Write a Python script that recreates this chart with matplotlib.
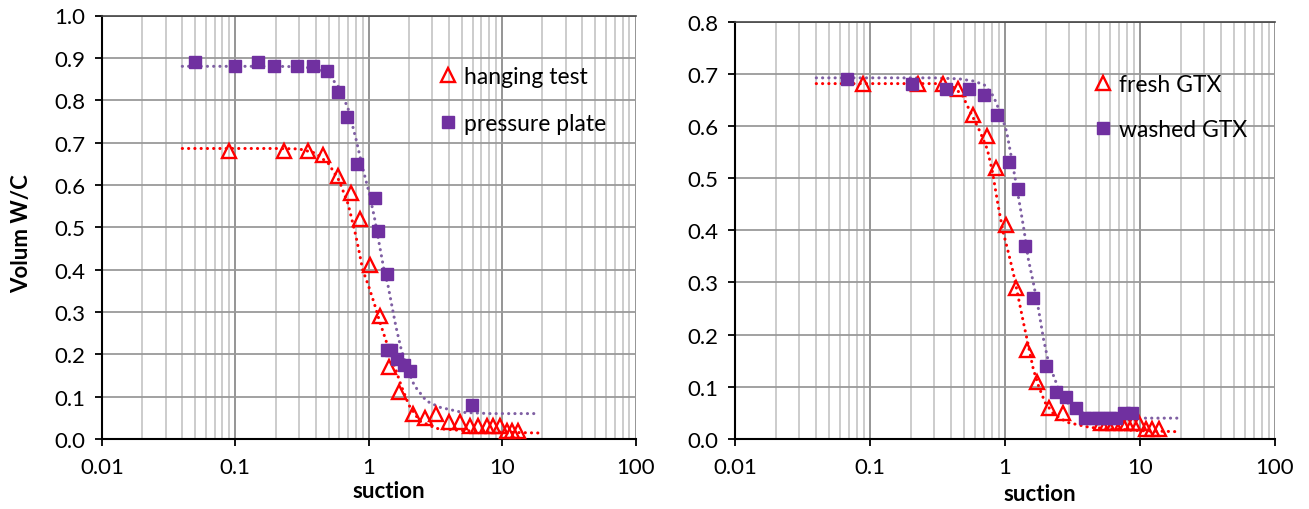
import numpy as np
import matplotlib
matplotlib.use("Agg")
import matplotlib.pyplot as plt
from matplotlib.ticker import LogLocator, NullFormatter, FixedLocator

plt.rcParams['font.family'] = ['Lato', 'DejaVu Sans']

# ---------------- data ----------------
# Left chart
hang_x = [0.09, 0.23, 0.35, 0.455, 0.59, 0.73, 0.867, 1.02, 1.21, 1.43, 1.70, 2.13,
          2.62, 3.22, 4.02, 4.86, 5.77, 6.62, 7.73, 8.57, 9.66, 10.9, 11.9, 13.2]
hang_y = [0.68, 0.68, 0.68, 0.67, 0.62, 0.58, 0.52, 0.41, 0.29, 0.17, 0.11, 0.06,
          0.05, 0.06, 0.04, 0.04, 0.03, 0.03, 0.03, 0.03, 0.03, 0.02, 0.02, 0.02]
plate_x = [0.05, 0.10, 0.149, 0.196, 0.29, 0.385, 0.49, 0.59, 0.69, 0.82, 1.12, 1.18,
           1.36, 1.37, 1.48, 1.63, 1.83, 2.05, 5.9]
plate_y = [0.89, 0.88, 0.89, 0.88, 0.88, 0.88, 0.87, 0.82, 0.76, 0.65, 0.57, 0.49,
           0.39, 0.21, 0.21, 0.19, 0.175, 0.16, 0.08]
# fitted curves
hang_fit_x = [0.04, 0.1, 0.2, 0.3, 0.4, 0.5, 0.6, 0.7, 0.8, 0.85, 0.9, 1.0, 1.1, 1.2,
              1.36, 1.56, 1.75, 2.0, 2.4, 3.2, 5.0, 10.0, 20.0]
hang_fit_y = [0.686, 0.686, 0.686, 0.685, 0.675, 0.65, 0.61, 0.555, 0.48, 0.44, 0.40,
              0.36, 0.32, 0.28, 0.228, 0.173, 0.126, 0.08, 0.043, 0.025, 0.02, 0.016, 0.014]
plate_fit_x = [0.04, 0.1, 0.2, 0.3, 0.4, 0.5, 0.6, 0.7, 0.8, 0.9, 1.0, 1.1, 1.2, 1.3,
               1.4, 1.5, 1.6, 1.75, 1.95, 2.2, 2.7, 3.4, 5.0, 8.0, 18.0]
plate_fit_y = [0.88, 0.88, 0.88, 0.879, 0.875, 0.86, 0.83, 0.78, 0.71, 0.64, 0.585,
               0.525, 0.46, 0.40, 0.36, 0.31, 0.265, 0.212, 0.165, 0.126, 0.09, 0.075,
               0.063, 0.06, 0.06]

# Right chart
fresh_x = [0.088, 0.228, 0.346, 0.451, 0.582, 0.732, 0.857, 1.02, 1.21, 1.45, 1.74,
           2.13, 2.69, 5.1, 5.7, 6.4, 7.4, 8.0, 8.9, 9.8, 11.0, 12.3, 13.8]
fresh_y = [0.68, 0.68, 0.68, 0.67, 0.62, 0.58, 0.52, 0.41, 0.29, 0.17, 0.11,
           0.06, 0.05, 0.03, 0.03, 0.03, 0.03, 0.03, 0.03, 0.03, 0.02, 0.02, 0.02]
washed_x = [0.068, 0.206, 0.366, 0.543, 0.698, 0.867, 1.076, 1.256, 1.41, 1.62, 2.01,
            2.39, 2.84, 3.37, 3.93, 4.4, 4.9, 5.4, 6.0, 6.6, 7.6, 8.7]
washed_y = [0.69, 0.68, 0.67, 0.67, 0.66, 0.62, 0.53, 0.48, 0.37, 0.27, 0.14,
            0.09, 0.08, 0.06, 0.04, 0.04, 0.04, 0.04, 0.04, 0.04, 0.05, 0.05]
fresh_fit_x = [0.04, 0.1, 0.2, 0.31, 0.41, 0.48, 0.565, 0.65, 0.74, 0.81, 0.89, 0.97,
               1.06, 1.15, 1.22, 1.37, 1.49, 1.62, 1.77, 1.98, 2.29, 2.88, 4.28, 10.0, 19.0]
fresh_fit_y = [0.681, 0.681, 0.681, 0.681, 0.675, 0.66, 0.622, 0.59, 0.555, 0.51, 0.447,
               0.396, 0.357, 0.319, 0.287, 0.223, 0.179, 0.134, 0.102, 0.07, 0.048, 0.032,
               0.022, 0.016, 0.014]
washed_fit_x = [0.04, 0.1, 0.3, 0.46, 0.58, 0.70, 0.82, 0.945, 1.03, 1.10, 1.19, 1.29,
                1.38, 1.49, 1.62, 1.77, 1.93, 2.10, 2.29, 2.49, 2.88, 3.41, 4.28, 6.75, 20.0]
washed_fit_y = [0.692, 0.692, 0.692, 0.69, 0.686, 0.679, 0.657, 0.619, 0.588, 0.548,
                0.499, 0.447, 0.402, 0.344, 0.30, 0.249, 0.191, 0.147, 0.121, 0.096,
                0.07, 0.054, 0.045, 0.04, 0.04]

xtick_vals = [0.01, 0.1, 1, 10, 100]
xtick_labels = ['0.01', '0.1', '1', '10', '100']

RED = '#FF0000'
PURPLE = '#7030A0'
PURPLE_FIT = '#7F5FA3'
FS = 16
FS_LEG = 16.5

W, H = 1309, 510
fig = plt.figure(figsize=(W / 100, H / 100), dpi=100)


def fpos(x0, y0, x1, y1):
    return [x0 / W, 1 - y1 / H, (x1 - x0) / W, (y1 - y0) / H]


axL = fig.add_axes(fpos(102, 16.5, 635.5, 440))
axR = fig.add_axes(fpos(735, 22.5, 1275, 440))


def style(ax, ymax):
    ax.set_xscale('log')
    ax.set_xlim(0.01, 100)
    ax.set_ylim(0, ymax)
    ax.xaxis.set_major_locator(FixedLocator(xtick_vals))
    ax.set_xticklabels(xtick_labels)
    ax.xaxis.set_minor_locator(LogLocator(base=10, subs=np.arange(2, 10)))
    ax.xaxis.set_minor_formatter(NullFormatter())
    yt = np.round(np.arange(0, ymax + 0.001, 0.1), 1)
    ax.set_yticks(yt)
    ax.set_yticklabels([f'{v:.1f}' for v in yt])
    ax.grid(which='major', axis='x', color='#8c8c8c', lw=1.3)
    ax.grid(which='minor', axis='x', color='#c8c8c8', lw=1.3)
    ax.grid(which='major', axis='y', color='#9a9a9a', lw=1.3)
    ax.set_axisbelow(True)
    for s in ['left', 'bottom']:
        ax.spines[s].set_color('black')
        ax.spines[s].set_linewidth(1.5)
    ax.spines['top'].set_color('#444444')
    ax.spines['top'].set_linewidth(1.2)
    ax.spines['right'].set_visible(False)
    ax.tick_params(which='major', direction='out', length=5, width=1.3, labelsize=FS,
                   color='black')
    ax.tick_params(axis='y', pad=7)
    ax.tick_params(axis='x', pad=8)
    ax.tick_params(which='minor', length=0)
    ax.tick_params(top=False, right=False)


style(axL, 1.0)
style(axR, 0.8)

dot = (0, (0.05, 2.0))
for ax, fx1, fy1, fx2, fy2 in [(axL, hang_fit_x, hang_fit_y, plate_fit_x, plate_fit_y),
                               (axR, fresh_fit_x, fresh_fit_y, washed_fit_x, washed_fit_y)]:
    ax.plot(fx1, fy1, linestyle=dot, lw=2.2, color=RED, dash_capstyle='round', zorder=2)
    ax.plot(fx2, fy2, linestyle=dot, lw=2.2, color=PURPLE_FIT, dash_capstyle='round', zorder=2)

axL.plot(hang_x, hang_y, linestyle='none', marker='^', ms=10, mfc='none', mec=RED,
         mew=1.7, label='hanging test', zorder=3)
axL.plot(plate_x, plate_y, linestyle='none', marker='s', ms=8.5, color=PURPLE,
         label='pressure plate', zorder=3)
axR.plot(fresh_x, fresh_y, linestyle='none', marker='^', ms=10, mfc='none', mec=RED,
         mew=1.7, label='fresh GTX', zorder=3)
axR.plot(washed_x, washed_y, linestyle='none', marker='s', ms=8.5, color=PURPLE,
         label='washed GTX', zorder=3)

for ax, lx, cy, sp in [(axL, 439, 101, 1.15), (axR, 1093.5, 108, 1.05)]:
    ax.legend(loc='center left', bbox_to_anchor=(lx / W, 1 - cy / H),
              bbox_transform=fig.transFigure, frameon=False, fontsize=FS_LEG,
              handlelength=0.8, handletextpad=0.3, labelspacing=sp,
              borderpad=0, borderaxespad=0)

fig.text(22 / W, 1 - 234 / H, 'Volum W/C', rotation=90, ha='center', va='center',
         fontsize=FS, fontweight='bold')
fig.text(389 / W, 1 - 492 / H, 'suction', ha='center', va='center', fontsize=FS,
         fontweight='bold')
fig.text(1040 / W, 1 - 495 / H, 'suction', ha='center', va='center', fontsize=FS,
         fontweight='bold')

fig.savefig('out.png', dpi=100)
